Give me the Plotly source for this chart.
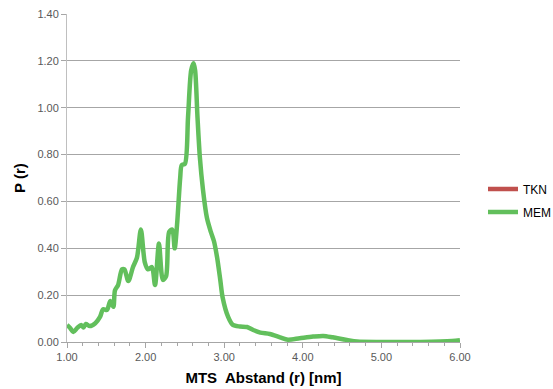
import plotly.graph_objects as go

# Pair distance distribution P(r) for the MTS label
r_nm = [1.00, 1.04, 1.08, 1.13, 1.18, 1.21, 1.24, 1.29, 1.36, 1.42, 1.46, 1.51,
        1.55, 1.59, 1.61, 1.65, 1.70, 1.73, 1.78, 1.84, 1.89, 1.94, 1.99, 2.03,
        2.08, 2.12, 2.17, 2.22, 2.26, 2.30, 2.34, 2.37, 2.40, 2.44, 2.46, 2.50,
        2.54, 2.58, 2.61, 2.63, 2.66, 2.69, 2.73, 2.78, 2.83, 2.87, 2.91, 2.95,
        2.98, 3.05, 3.11, 3.20, 3.29, 3.37, 3.46, 3.58, 3.71, 3.81, 3.96, 4.13,
        4.26, 4.38, 4.56, 4.69, 5.00, 5.50, 5.90, 6.00]
p_mem = [0.073, 0.060, 0.043, 0.060, 0.073, 0.062, 0.077, 0.068, 0.080, 0.107, 0.140, 0.137,
         0.175, 0.150, 0.220, 0.243, 0.310, 0.310, 0.260, 0.320, 0.360, 0.480, 0.340, 0.310,
         0.320, 0.243, 0.420, 0.265, 0.280, 0.470, 0.480, 0.400, 0.500, 0.700, 0.755, 0.760,
         0.960, 1.160, 1.190, 1.160, 0.960, 0.790, 0.650, 0.530, 0.470, 0.430, 0.360, 0.265,
         0.190, 0.107, 0.073, 0.066, 0.064, 0.051, 0.040, 0.034, 0.020, 0.010, 0.016, 0.023,
         0.026, 0.020, 0.009, 0.002, 0.000, 0.000, 0.004, 0.008]

# TKN series carries no points in this range
r_tkn = [None]
p_tkn = [None]

x_ticks = [1, 2, 3, 4, 5, 6]
y_ticks = [0, 0.2, 0.4, 0.6, 0.8, 1.0, 1.2, 1.4]

W, H = 553, 389
L, R, T, B = 67, 10, 14, 47
plot_right = 460                      # right edge of the plotting area, px
paper_w = W - L - R
paper_h = H - T - B
x_dom = (plot_right - L) / paper_w


def legend_at(px, py):
    """Legend box anchored at a pixel position of the page."""
    return dict(x=(px - L) / paper_w, y=(H - B - py) / paper_h,
                xanchor="left", yanchor="middle",
                font=dict(family="Liberation Sans, Arial, sans-serif", size=12, color="#000000"),
                itemwidth=30, bgcolor="rgba(0,0,0,0)", borderwidth=0)


fig = go.Figure()
fig.add_trace(go.Scatter(x=r_tkn, y=p_tkn, name="TKN", mode="lines", legend="legend",
                         line=dict(color="#C0504D", width=4.5)))
fig.add_trace(go.Scatter(x=r_nm, y=p_mem, name="MEM", mode="lines", legend="legend2",
                         line=dict(color="#62BF5C", width=4.5, shape="spline", smoothing=0.8)))

tick_font = dict(family="Liberation Sans, Arial, sans-serif", size=11, color="#595959")
title_font = dict(family="Liberation Sans, Arial, sans-serif", size=15, color="#000000")

fig.update_layout(
    width=W, height=H,
    margin=dict(l=L, r=R, t=T, b=B, autoexpand=False),
    paper_bgcolor="white", plot_bgcolor="white",
    showlegend=True,
    legend=legend_at(483, 189),
    legend2=legend_at(483, 212),
    xaxis=dict(domain=[0, x_dom], range=[1, 6], tickvals=x_ticks,
               ticktext=[f"{v:.2f}" for v in x_ticks],
               showgrid=False, zeroline=False,
               showline=True, linecolor="#A6A6A6", linewidth=1,
               ticks="outside", ticklen=5, tickcolor="#A6A6A6",
               minor=dict(dtick=0.2, ticks="outside", ticklen=3, tickcolor="#A6A6A6"),
               tickfont=tick_font,
               title=dict(text="<b>MTS  Abstand (r) [nm]</b>", font=title_font, standoff=10)),
    yaxis=dict(range=[0, 1.4], tickvals=y_ticks, ticktext=[f"{v:.2f}" for v in y_ticks],
               showgrid=True, gridcolor="#A6A6A6", gridwidth=1, zeroline=False,
               showline=True, linecolor="#BFBFBF", linewidth=1,
               ticks="outside", ticklen=5, tickcolor="#A6A6A6",
               tickfont=tick_font,
               title=dict(text="<b>P (r)</b>", font=title_font, standoff=8)),
)

fig.write_html("out.html")
